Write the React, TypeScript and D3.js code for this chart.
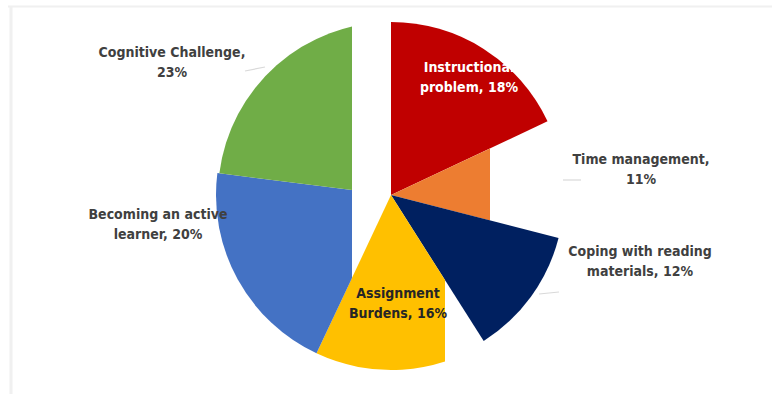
import React from "react";
import * as d3 from "d3";

const categories = [
  "Instructional problem",
  "Time management",
  "Coping with reading materials",
  "Assignment Burdens",
  "Becoming an active learner",
  "Cognitive Challenge",
];
const values = [18, 11, 12, 16, 20, 23];
const labelLines = [
  ["Instructional", "problem, 18%"],
  ["Time management,", "11%"],
  ["Coping with reading", "materials, 12%"],
  ["Assignment", "Burdens, 16%"],
  ["Becoming an active", "learner, 20%"],
  ["Cognitive Challenge,", "23%"],
];
const colors = ["#C00000", "#ED7D31", "#002060", "#FFC000", "#4472C4", "#70AD47"];
const radii = [173, 112, 173, 175, 175, 173];
const labelColors = ["#ffffff", "#404040", "#404040", "#262626", "#404040", "#404040"];
// label centre offsets from pie centre
const labelOffsets: [number, number][] = [
  [78, -118],
  [250, -26],
  [249, 66],
  [7, 108],
  [-233, 29],
  [-219, -133],
];
const leaders: ([number, number, number, number] | null)[] = [
  null,
  [172, -15, 190, -15],
  [148, 99, 168, 97],
  null,
  null,
  [-146, -124, -126, -128],
];
// clip limits (x relative to centre) reproducing the cut-out of the source image
const clipMaxX = [null, 99, null, 54, -39, -39];

export default function App() {
  const W = 774;
  const H = 394;
  const cx = 391;
  const cy = 195;
  const data = categories.map((c, i) => ({ c, v: values[i], i }));
  const pie = d3
    .pie<any>()
    .sort(null)
    .value((d) => d.v)
    .startAngle(0)
    .endAngle(2 * Math.PI);
  const arcs = pie(data);
  const arcGen = d3.arc<any>().innerRadius(0);

  return (
    <svg
      width={W}
      height={H}
      style={{ position: "absolute", left: 0, top: 0, background: "#fff" }}
      fontFamily="'Liberation Sans Narrow', 'DejaVu Sans Condensed', sans-serif"
    >
      <defs>
        {clipMaxX.map((m, i) =>
          m === null ? null : (
            <clipPath id={`clip${i}`} key={i}>
              <rect x={-400} y={-400} width={400 + m} height={800} />
            </clipPath>
          )
        )}
      </defs>
      <line x1={8} y1={6.5} x2={772} y2={6.5} stroke="#f0f0f0" strokeWidth={2} />
      <line x1={11} y1={6} x2={11} y2={394} stroke="#f0f0f0" strokeWidth={3} />
      <g transform={`translate(${cx},${cy})`}>
        {arcs.map((a, i) => (
          <path
            key={i}
            d={arcGen.outerRadius(radii[i])(a) as string}
            fill={colors[i]}
            clipPath={clipMaxX[i] === null ? undefined : `url(#clip${i})`}
          />
        ))}
        {leaders.map((l, i) =>
          l ? (
            <line key={i} x1={l[0]} y1={l[1]} x2={l[2]} y2={l[3]} stroke="#d9d9d9" strokeWidth={1.2} />
          ) : null
        )}
        {labelLines.map((lines, i) => (
          <text
            key={i}
            x={labelOffsets[i][0]}
            y={labelOffsets[i][1]}
            textAnchor="middle"
            fontSize={14}
            fontWeight="bold"
            fill={labelColors[i]}
          >
            <tspan x={labelOffsets[i][0]} dy={-5}>
              {lines[0]}
            </tspan>
            <tspan x={labelOffsets[i][0]} dy={20}>
              {lines[1]}
            </tspan>
          </text>
        ))}
      </g>
    </svg>
  );
}
